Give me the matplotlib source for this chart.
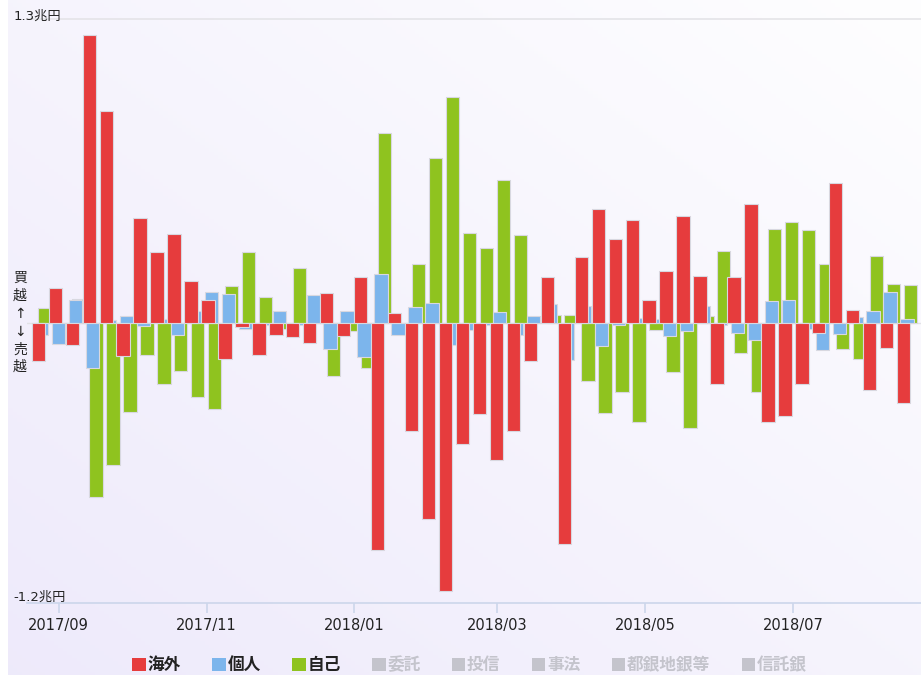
import numpy as np
import matplotlib
matplotlib.use("Agg")
import matplotlib.pyplot as plt
import matplotlib.dates as mdates
from matplotlib.patches import Patch
import pandas as pd

plt.rcParams['font.family'] = ['DejaVu Sans', 'Noto Sans CJK JP']

# 週次 (金曜) 投資部門別売買差額 単位:兆円
weeks = ['2017-08-25', '2017-09-01', '2017-09-08', '2017-09-15', '2017-09-22', '2017-09-29',
         '2017-10-06', '2017-10-13', '2017-10-20', '2017-10-27', '2017-11-03', '2017-11-10',
         '2017-11-17', '2017-11-24', '2017-12-01', '2017-12-08', '2017-12-15', '2017-12-22',
         '2017-12-29', '2018-01-05', '2018-01-12', '2018-01-19', '2018-01-26', '2018-02-02',
         '2018-02-09', '2018-02-16', '2018-02-23', '2018-03-02', '2018-03-09', '2018-03-16',
         '2018-03-23', '2018-03-30', '2018-04-06', '2018-04-13', '2018-04-20', '2018-04-27',
         '2018-05-04', '2018-05-11', '2018-05-18', '2018-05-25', '2018-06-01', '2018-06-08',
         '2018-06-15', '2018-06-22', '2018-06-29', '2018-07-06', '2018-07-13', '2018-07-20',
         '2018-07-27', '2018-08-03', '2018-08-10', '2018-08-17']

kaigai = [-0.166, 0.148, -0.097, 1.233, 0.905, -0.144, 0.448, 0.302, 0.381, 0.177,
          0.095, -0.156, -0.017, -0.137, -0.051, -0.063, -0.086, 0.126, -0.058, 0.195,
          -0.973, 0.040, -0.463, -0.840, -1.150, -0.519, -0.392, -0.588, -0.463, -0.166,
          0.194, -0.948, 0.280, 0.487, 0.360, 0.441, 0.095, 0.223, 0.455, 0.200,
          -0.262, 0.194, 0.508, -0.425, -0.400, -0.262, -0.044, 0.600, 0.056, -0.287,
          -0.108, -0.343]

kojin = [-0.051, -0.091, 0.098, -0.194, 0.013, 0.028, -0.016, 0.016, -0.051, 0.048,
         0.130, 0.124, -0.027, -0.010, 0.050, -0.010, 0.120, -0.113, 0.048, -0.148,
         0.210, -0.051, 0.067, 0.084, -0.094, -0.030, -0.012, 0.046, -0.051, 0.030,
         0.081, -0.158, 0.073, -0.101, -0.010, 0.020, 0.017, -0.056, -0.037, 0.073,
         -0.010, -0.044, -0.073, 0.091, 0.095, -0.026, -0.118, -0.049, 0.023, 0.048,
         0.130, 0.016]

jiko = [0.063, -0.050, 0.100, -0.745, -0.608, -0.384, -0.137, -0.262, -0.205, -0.320,
        -0.370, 0.155, 0.302, 0.110, -0.027, 0.234, 0.080, -0.230, -0.034, -0.194,
        0.812, -0.030, 0.251, 0.703, 0.966, 0.384, 0.320, 0.612, 0.377, 0.020,
        0.034, 0.034, -0.251, -0.388, -0.297, -0.427, -0.030, -0.211, -0.452, 0.030,
        0.308, -0.130, -0.298, 0.401, 0.430, 0.395, 0.251, -0.113, -0.156, 0.287,
        0.166, 0.160]

shown = ['海外', '個人', '自己']
hidden = ['委託', '投信', '事法', '都銀地銀等', '信託銀']
colors = ['#e63c3d', '#7cb5ec', '#8fc31f']
ymin, ymax = -1.2, 1.3

W, H = 921, 675
fig = plt.figure(figsize=(W / 100, H / 100), dpi=100)

# 背景グラデーション
bg = fig.add_axes([8 / W, 0, 1 - 8 / W, 1], zorder=-10)
u = np.linspace(0, 1, 200)
gx, gy = np.meshgrid(u, u[::-1])
t = (gx + gy) / 2
c0 = np.array([0.933, 0.918, 0.984])
c1 = np.array([0.996, 0.996, 1.0])
img = c0 + (c1 - c0) * t[..., None]
bg.imshow(img, aspect='auto', extent=(0, 1, 0, 1))
bg.axis('off')

ax = fig.add_axes([27 / W, 1 - 603 / H, 1 - 27 / W, (603 - 19) / H])
ax.patch.set_alpha(0)

x = mdates.date2num(pd.to_datetime(weeks))
width = 5.5
offsets = [-1.4, 0.0, 1.4]
zorders = [4, 3, 2]
for vals, c, off, z in zip([kaigai, kojin, jiko], colors, offsets, zorders):
    ax.bar(x + off, vals, width=width, color=c, edgecolor='#d8d8e0',
           linewidth=0.8, zorder=z)

ax.axhline(0, color='#e2e2e6', lw=1, zorder=1)
ax.axhline(ymax, color='#e4e4e8', lw=1.2, zorder=1, clip_on=False)

ax.set_ylim(ymin, ymax)
ax.set_xlim(x[0] - 6.06, x[0] + 362.75)

for s in ['top', 'right', 'left']:
    ax.spines[s].set_visible(False)
ax.spines['bottom'].set_color('#ccd6eb')
ax.spines['bottom'].set_linewidth(1.2)
ax.set_yticks([])
ax.xaxis.set_major_locator(mdates.MonthLocator(bymonth=[1, 3, 5, 7, 9, 11]))
ax.xaxis.set_major_formatter(mdates.DateFormatter('%Y/%m'))
ax.tick_params(axis='x', length=7.5, width=1.2, color='#ccd6eb', pad=3,
               labelsize=10.5, labelcolor='#222222')

# 軸ラベル
ax.annotate('1.3兆円', xy=(0, ymax), xycoords=('axes fraction', 'data'),
            xytext=(-10, 1.7), textcoords='offset points', ha='left', va='center',
            fontsize=9.5, color='#222222', annotation_clip=False)
ax.annotate('-1.2兆円', xy=(0, ymin), xycoords=('axes fraction', 'data'),
            xytext=(-10, 3.8), textcoords='offset points', ha='left', va='center',
            fontsize=9.5, color='#222222', annotation_clip=False)
for i, ch in enumerate(['買', '越', '↑', '↓', '売', '越']):
    ax.annotate(ch, xy=(0, 0), xycoords=('axes fraction', 'data'),
                xytext=(-5, (2.5 - i) * 12.8), textcoords='offset points',
                ha='center', va='center', fontsize=10, color='#222222',
                annotation_clip=False)

handles = [Patch(facecolor=c) for c in colors] + [Patch(facecolor='#c4c4cc') for _ in hidden]
leg = fig.legend(handles, shown + hidden, loc='center',
                 bbox_to_anchor=(469.5 / W, 1 - 665 / H), ncol=8, frameon=False,
                 handlelength=0.8, handleheight=0.8, handletextpad=0.1,
                 columnspacing=1.9, prop={'weight': 'bold', 'size': 12})
for i, txt in enumerate(leg.get_texts()):
    txt.set_color('#222222' if i < len(shown) else '#c4c4cc')

fig.savefig('out.png', dpi=100)
